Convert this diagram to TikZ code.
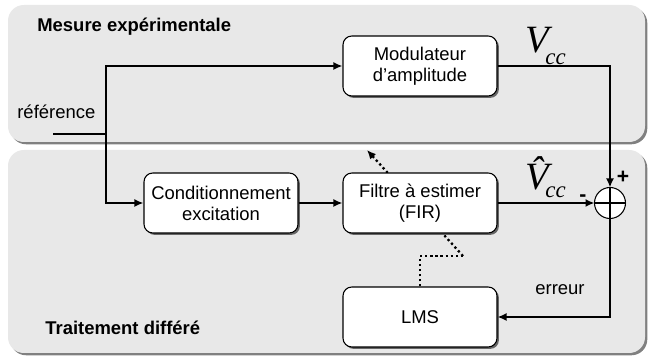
\documentclass[tikz,border=0pt]{standalone}
\usepackage{fontspec}
\setmainfont{Liberation Sans}
\newfontfamily\serifit{Liberation Serif}
\usetikzlibrary{arrows.meta,positioning,calc,shadows}
\definecolor{panelfill}{HTML}{E8E8E8}
\definecolor{panelshade}{HTML}{808080}
\definecolor{ink}{HTML}{000000}

\begin{document}
\begin{tikzpicture}[
    x=0.02cm, y=0.02cm,
    >={Latex[length=1.8mm,width=1.6mm]},
    font=\fontsize{10.5}{12}\selectfont,
    panel/.style={fill=panelfill, rounded corners=9pt,
                  drop shadow={shadow xshift=1.3pt, shadow yshift=-1.3pt,
                               fill=panelshade, opacity=1}},
    blk/.style={draw=ink, fill=white, rounded corners=5pt, line width=0.6pt,
                minimum width=3.08cm, minimum height=1.2cm, align=center,
                inner sep=2pt,
                drop shadow={shadow xshift=1.1pt, shadow yshift=-1.1pt,
                             fill=black!60, opacity=1}},
    sig/.style={line width=1.1pt, draw=ink},
    adapt/.style={line width=1.3pt, dash pattern=on 1.3pt off 1.6pt},
    areatitle/.style={font=\fontsize{10.5}{12}\selectfont\bfseries,
                      anchor=base west, inner sep=0pt},
    vname/.style={anchor=base west, inner sep=0pt,
                  font=\fontsize{22}{22}\selectfont\serifit\itshape},
  ]
\useasboundingbox (0,0) rectangle (650,358);

% the two areas
\fill[panel] (8,216) rectangle (645,353);
\fill[panel] (8,5) rectangle (645,208);
\node[areatitle] (mes) at (37,326) {Mesure expérimentale};
\node[areatitle] (trt) at (45,23) {Traitement différé};

% reference input
\node[anchor=base west, inner sep=0pt] (reflab) at (17,239) {référence};
\coordinate (refin) at (53,224);
\coordinate (split) at (106,224);

% blocks
\node[blk] (mod) at (420,292) {Modulateur\\d'amplitude};
\node[blk] (cond) at (221,155) {Conditionnement\\excitation};
\node[blk] (lms) at (420,41) {LMS};

% adaptation path, behind the filter
\coordinate (a1) at (420,102);
\coordinate (a2) at (463,102);
\coordinate (a3) at (367,208);
\draw[adapt] (lms.north) -- (a1) -- (a2);
\draw[adapt,->] (a2) -- (a3);

\node[blk] (fir) at (420,155) {Filtre à estimer\\(FIR)};

% summing point
\draw[line width=0.6pt, fill=white] (610,155) circle (0.31cm);
\coordinate (sum) at (610,155);
\draw[line width=0.6pt] ($(sum)+(0,15.5)$) -- ($(sum)+(0,-15.5)$);
\draw[line width=0.6pt] ($(sum)+(-15.5,0)$) -- ($(sum)+(15.5,0)$);
\node[font=\fontsize{12}{12}\selectfont\bfseries] (plus) at (623,181) {+};
\node[font=\fontsize{12}{12}\selectfont\bfseries] (minus) at (583,160) {-};

% signal paths
\draw[sig] (refin) -- (split);
\draw[sig,->] (split) |- (mod.west);
\draw[sig,->] (split) |- (cond.west);
\draw[sig,->] (cond) -- (fir);
\draw[sig,->] (fir.east) -- ($(sum)+(-15.5,0)$);
\draw[sig,->] (mod.east) -| ($(sum)+(0,15.5)$);
\draw[sig,->] ($(sum)+(0,-15.5)$) |- (lms.east);

% signal names
\node[vname] (vm) at (525,305)
  {V\kern-0.07cm\raisebox{-0.24cm}{\fontsize{13}{13}\selectfont cc}};
\node[vname] (ve) at (525,168)
  {\^{V}\kern-0.07cm\raisebox{-0.16cm}{\fontsize{13}{13}\selectfont cc}};
\node (err) at (560,68) {erreur};

\end{tikzpicture}
\end{document}
